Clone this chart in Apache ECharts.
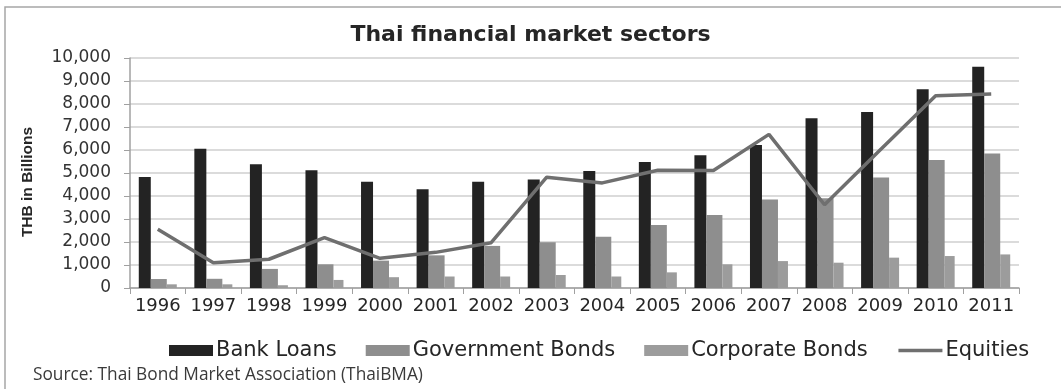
<!DOCTYPE html>
<html>
<head>
<meta charset="utf-8">
<style>
  html, body { margin: 0; padding: 0; background: #fff; }
  #chart { width: 1061px; height: 389px; }
</style>
<script src="https://cdn.jsdelivr.net/npm/echarts@6/dist/echarts.min.js"></script>
</head>
<body>
<div id="chart"></div>
<script>
// Thai financial market sectors, THB in billions
const years = ['1996','1997','1998','1999','2000','2001','2002','2003','2004','2005','2006','2007','2008','2009','2010','2011'];
const bankLoans = [4830, 6050, 5380, 5120, 4620, 4290, 4620, 4720, 5090, 5480, 5770, 6220, 7380, 7650, 8640, 9620];
const govBonds  = [390, 400, 830, 1030, 1190, 1420, 1830, 1990, 2230, 2740, 3170, 3850, 3900, 4800, 5560, 5850];
const corpBonds = [160, 160, 120, 350, 470, 500, 500, 565, 500, 680, 1030, 1170, 1100, 1320, 1390, 1460];
const equities  = [2550, 1100, 1250, 2190, 1290, 1550, 1970, 4820, 4570, 5120, 5110, 6680, 3620, 6000, 8360, 8440];
const yTicks = { min: 0, max: 10000, step: 1000 };

const labelFont = 'DejaVu Sans, Verdana, sans-serif';
const chart = echarts.init(document.getElementById('chart'));

chart.setOption({
  animation: false,
  backgroundColor: '#ffffff',
  title: {
    text: 'Thai financial market sectors',
    left: 'center',
    top: 19,
    textStyle: { fontFamily: labelFont, fontSize: 22, fontWeight: 'bold', color: '#262626' }
  },
  graphic: [
    {
      type: 'rect',
      shape: { x: 5, y: 7, width: 1080, height: 420 },
      style: { fill: 'none', stroke: '#a6a6a6', lineWidth: 1.5 },
      silent: true
    },
    {
      type: 'text',
      x: 28, y: 182,
      rotation: Math.PI / 2,
      style: {
        text: 'THB in Billions',
        fontFamily: 'Liberation Sans Narrow, Liberation Sans, Arial Narrow, sans-serif',
        fontWeight: 'bold', fontSize: 15.5, fill: '#262626',
        align: 'center', verticalAlign: 'middle'
      }
    },
    {
      type: 'text',
      left: 33, top: 367,
      style: {
        text: 'Source: Thai Bond Market Association (ThaiBMA)',
        fontFamily: 'Open Sans, Liberation Sans, sans-serif',
        fontSize: 17.3, fill: '#3a3a3a'
      }
    }
  ],
  legend: {
    left: 164,
    top: 335,
    itemWidth: 44,
    itemHeight: 11,
    itemGap: 29,
    textStyle: { fontFamily: labelFont, fontSize: 21, color: '#262626', padding: [0, 0, 0, -2] },
    data: [
      { name: 'Bank Loans', icon: 'rect' },
      { name: 'Government Bonds', icon: 'rect' },
      { name: 'Corporate Bonds', icon: 'rect' },
      { name: 'Equities', itemStyle: { opacity: 0 }, lineStyle: { width: 3.5, color: '#6f6f6f' } }
    ]
  },
  grid: { left: 130, right: 42, top: 58, bottom: 101, containLabel: false },
  xAxis: {
    type: 'category',
    data: years,
    axisLine: { lineStyle: { color: '#a0a0a0', width: 1.5 } },
    axisTick: { show: true, alignWithLabel: false, length: 6, lineStyle: { color: '#a0a0a0' } },
    axisLabel: { fontFamily: labelFont, fontSize: 18, color: '#262626', margin: 9, interval: 0 }
  },
  yAxis: {
    type: 'value',
    min: yTicks.min,
    max: yTicks.max,
    interval: yTicks.step,
    axisLine: { show: true, lineStyle: { color: '#a0a0a0', width: 1.5 } },
    axisTick: { show: true, length: 6, lineStyle: { color: '#a0a0a0' } },
    splitLine: { lineStyle: { color: '#cfcfcf', width: 1.5 } },
    axisLabel: {
      fontFamily: labelFont, fontSize: 17, color: '#333', margin: 19,
      formatter: v => v.toLocaleString('en-US')
    }
  },
  series: [
    {
      name: 'Bank Loans', type: 'bar', data: bankLoans,
      barWidth: 12, barGap: '0%',
      itemStyle: { color: '#232323' }
    },
    {
      name: 'Government Bonds', type: 'bar', data: govBonds,
      barWidth: 16, barGap: '0%',
      itemStyle: { color: '#8e8e8e' }
    },
    {
      name: 'Corporate Bonds', type: 'bar', data: corpBonds,
      barWidth: 10, barGap: '0%',
      itemStyle: { color: '#9c9c9c' }
    },
    {
      name: 'Equities', type: 'line', data: equities,
      symbol: 'none', z: 5,
      lineStyle: { color: '#6f6f6f', width: 3.5 },
      itemStyle: { color: '#6f6f6f' }
    }
  ]
});
</script>
</body>
</html>
